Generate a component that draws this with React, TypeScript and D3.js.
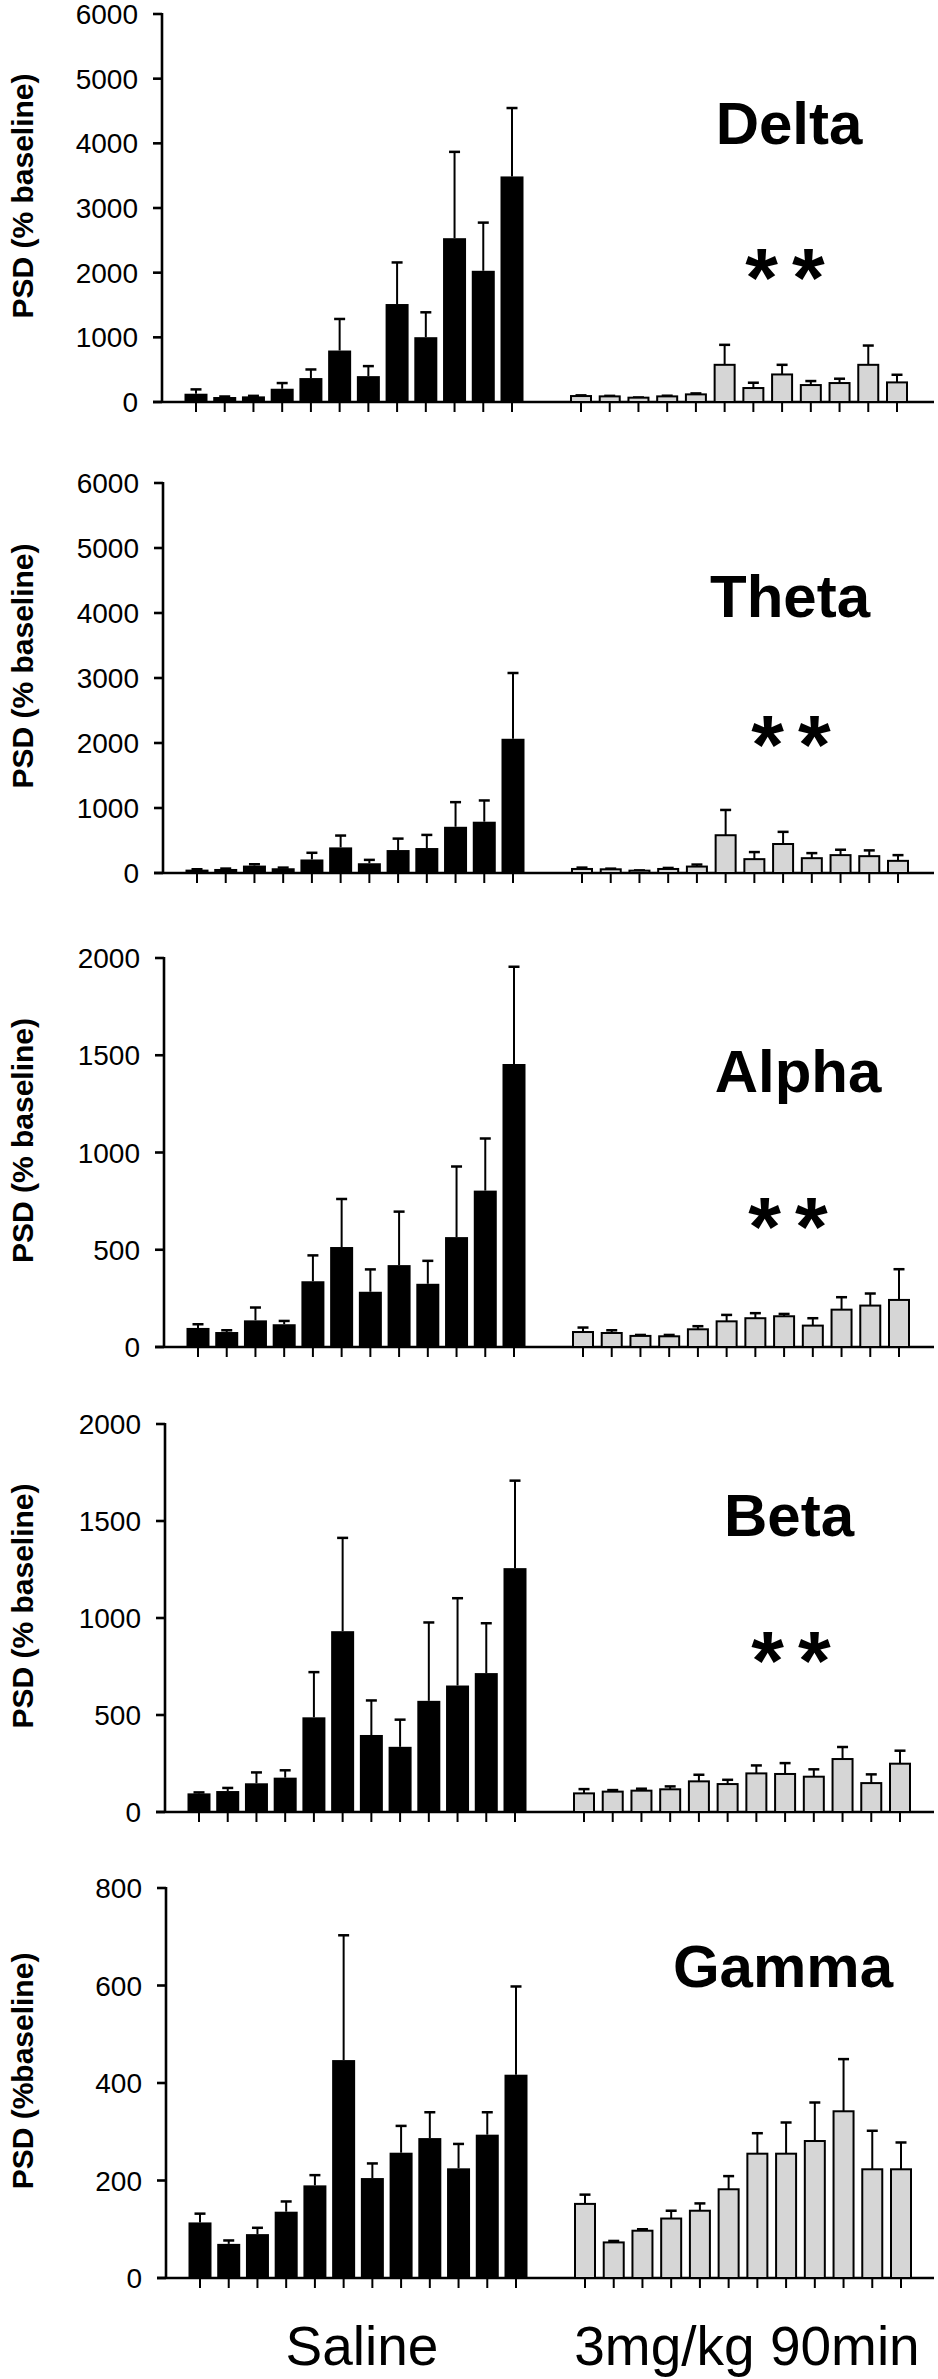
import React from "react";
import * as d3 from "d3";

// ---------- data ----------
const bands = ["Delta", "Theta", "Alpha", "Beta", "Gamma"];
const yLabels = ["PSD (% baseline)", "PSD (% baseline)", "PSD (% baseline)", "PSD (% baseline)", "PSD (%baseline)"];
const yMax = [6000, 6000, 2000, 2000, 800];
const yTickStep = [1000, 1000, 500, 500, 200];
const groupLabels = ["Saline", "3mg/kg 90min"];
const significance = ["**", "**", "**", "**", ""];

const deltaSaline = [128, 77, 87, 205, 370, 796, 400, 1515, 1002, 2533, 2029, 3488];
const deltaSalineSem = [67, 8, 8, 88, 133, 488, 155, 643, 385, 1335, 745, 1058];
const deltaDrug = [92, 87, 67, 87, 118, 575, 216, 426, 262, 293, 575, 303];
const deltaDrugSem = [11, 8, 3, 10, 15, 309, 82, 149, 62, 67, 298, 118];

const thetaSaline = [52, 62, 114, 73, 208, 394, 150, 353, 384, 711, 789, 2065];
const thetaSalineSem = [6, 6, 21, 10, 103, 182, 52, 176, 202, 379, 327, 1012];
const thetaDrug = [62, 57, 36, 62, 99, 581, 213, 446, 228, 275, 259, 187];
const thetaDrugSem = [21, 10, 4, 16, 31, 389, 109, 187, 78, 83, 89, 88];

const alphaSaline = [98, 77, 137, 117, 338, 514, 284, 421, 325, 565, 804, 1455];
const alphaSalineSem = [19, 9, 66, 17, 133, 247, 115, 275, 118, 363, 268, 500];
const alphaDrug = [77, 72, 57, 55, 91, 132, 148, 158, 110, 192, 213, 242];
const alphaDrugSem = [23, 14, 5, 7, 16, 33, 26, 12, 38, 64, 62, 158];

const betaSaline = [96, 108, 148, 177, 488, 932, 397, 336, 573, 652, 716, 1257];
const betaSalineSem = [5, 16, 56, 38, 233, 481, 178, 140, 404, 450, 257, 451];
const betaDrug = [96, 105, 110, 117, 158, 144, 199, 196, 182, 273, 149, 249];
const betaDrugSem = [22, 8, 10, 15, 34, 22, 41, 56, 38, 62, 45, 67];

const gammaSaline = [114, 70, 90, 136, 190, 447, 205, 257, 287, 225, 294, 417];
const gammaSalineSem = [18, 7, 13, 21, 21, 256, 30, 55, 53, 50, 46, 181];
const gammaDrug = [152, 73, 97, 122, 138, 182, 255, 255, 281, 342, 223, 223];
const gammaDrugSem = [19, 3, 3, 16, 15, 27, 42, 64, 79, 107, 79, 55];

const salineMeans = [deltaSaline, thetaSaline, alphaSaline, betaSaline, gammaSaline];
const salineSems = [deltaSalineSem, thetaSalineSem, alphaSalineSem, betaSalineSem, gammaSalineSem];
const drugMeans = [deltaDrug, thetaDrug, alphaDrug, betaDrug, gammaDrug];
const drugSems = [deltaDrugSem, thetaDrugSem, alphaDrugSem, betaDrugSem, gammaDrugSem];

// ---------- layout ----------
const W = 938;
const H = 2379;
const panelTop = [14, 483, 958, 1424, 1888];
const panelZero = [402, 873, 1347, 1812, 2278];
const panelShift = [0, 1, 2, 3, 4];
const titleX = [789, 790, 798, 789, 783];
const titleRise = [258, 256, 255, 276, 291];
const starX = [785, 791, 788, 791, 0];
const starRise = [142, 146, 138, 169, 0];

const FONT = "'Liberation Sans', Arial, Helvetica, sans-serif";
const GRAY = "#d6d6d6";

function Panel({ k }: { k: number }) {
  const s = panelShift[k];
  const y = d3.scaleLinear().domain([0, yMax[k]]).range([panelZero[k], panelTop[k]]);
  const xs = d3.scaleLinear().domain([0, 11]).range([196 + s, 512 + s]);
  const xd = d3.scaleLinear().domain([0, 11]).range([581 + s, 897 + s]);
  const axisX = 162 + s;
  const ticks = d3.range(0, yMax[k] + 1, yTickStep[k]);
  const zero = y(0);
  const mid = (panelTop[k] + panelZero[k]) / 2 - 12;

  const bar = (cx: number, v: number, e: number, fill: boolean, key: string) => {
    const top = y(v);
    const et = y(v + e);
    const w = fill ? 23 : 20;
    return (
      <g key={key}>
        <line x1={cx} x2={cx} y1={top} y2={et} stroke="#000" strokeWidth={2} />
        <line x1={cx - 5.5} x2={cx + 5.5} y1={et} y2={et} stroke="#000" strokeWidth={2.5} />
        <rect
          x={cx - w / 2}
          y={top}
          width={w}
          height={zero - top}
          fill={fill ? "#000" : GRAY}
          stroke="#000"
          strokeWidth={fill ? 0 : 2}
        />
      </g>
    );
  };

  return (
    <g>
      {/* y axis */}
      <line x1={axisX} x2={axisX} y1={y(yMax[k]) - 1} y2={zero} stroke="#000" strokeWidth={2.6} />
      {ticks.map((t) => (
        <g key={"t" + t}>
          <line x1={axisX - 9} x2={axisX} y1={y(t)} y2={y(t)} stroke="#000" strokeWidth={2.6} />
          <text x={axisX - 24} y={y(t)} dy="0.36em" textAnchor="end" fontFamily={FONT} fontSize={28} fill="#000">
            {t}
          </text>
        </g>
      ))}
      <text
        transform={`translate(${33},${mid}) rotate(-90)`}
        textAnchor="middle"
        fontFamily={FONT}
        fontWeight="bold"
        fontSize={30}
        fill="#000"
      >
        {yLabels[k]}
      </text>
      {/* x axis */}
      <line x1={axisX - 9} x2={934} y1={zero} y2={zero} stroke="#000" strokeWidth={2.6} />
      {salineMeans[k].map((_, i) => (
        <line key={"xs" + i} x1={xs(i)} x2={xs(i)} y1={zero} y2={zero + 10} stroke="#000" strokeWidth={2} />
      ))}
      {drugMeans[k].map((_, i) => (
        <line key={"xd" + i} x1={xd(i)} x2={xd(i)} y1={zero} y2={zero + 10} stroke="#000" strokeWidth={2} />
      ))}
      {salineMeans[k].map((v, i) => bar(xs(i), v, salineSems[k][i], true, "s" + i))}
      {drugMeans[k].map((v, i) => bar(xd(i), v, drugSems[k][i], false, "d" + i))}
      {/* title */}
      <text
        x={titleX[k]}
        y={zero - titleRise[k]}
        textAnchor="middle"
        fontFamily={FONT}
        fontWeight="bold"
        fontSize={60}
        fill="#000"
      >
        {bands[k]}
      </text>
      {significance[k] && (
        <text
          x={starX[k] + 7}
          y={zero - starRise[k]}
          dy="0.56em"
          textAnchor="middle"
          fontFamily={FONT}
          fontWeight="bold"
          fontSize={84}
          letterSpacing={14}
          fill="#000"
        >
          {significance[k]}
        </text>
      )}
    </g>
  );
}

export default function App() {
  return (
    <svg
      width={W}
      height={H}
      viewBox={`0 0 ${W} ${H}`}
      style={{ position: "absolute", left: 0, top: 0, background: "#fff", display: "block" }}
    >
      <rect x={0} y={0} width={W} height={H} fill="#fff" />
      {bands.map((_, k) => (
        <Panel key={k} k={k} />
      ))}
      <text x={362} y={2365} textAnchor="middle" fontFamily={FONT} fontSize={55} fill="#000">
        {groupLabels[0]}
      </text>
      <text x={747} y={2365} textAnchor="middle" fontFamily={FONT} fontSize={55} fill="#000">
        {groupLabels[1]}
      </text>
    </svg>
  );
}
